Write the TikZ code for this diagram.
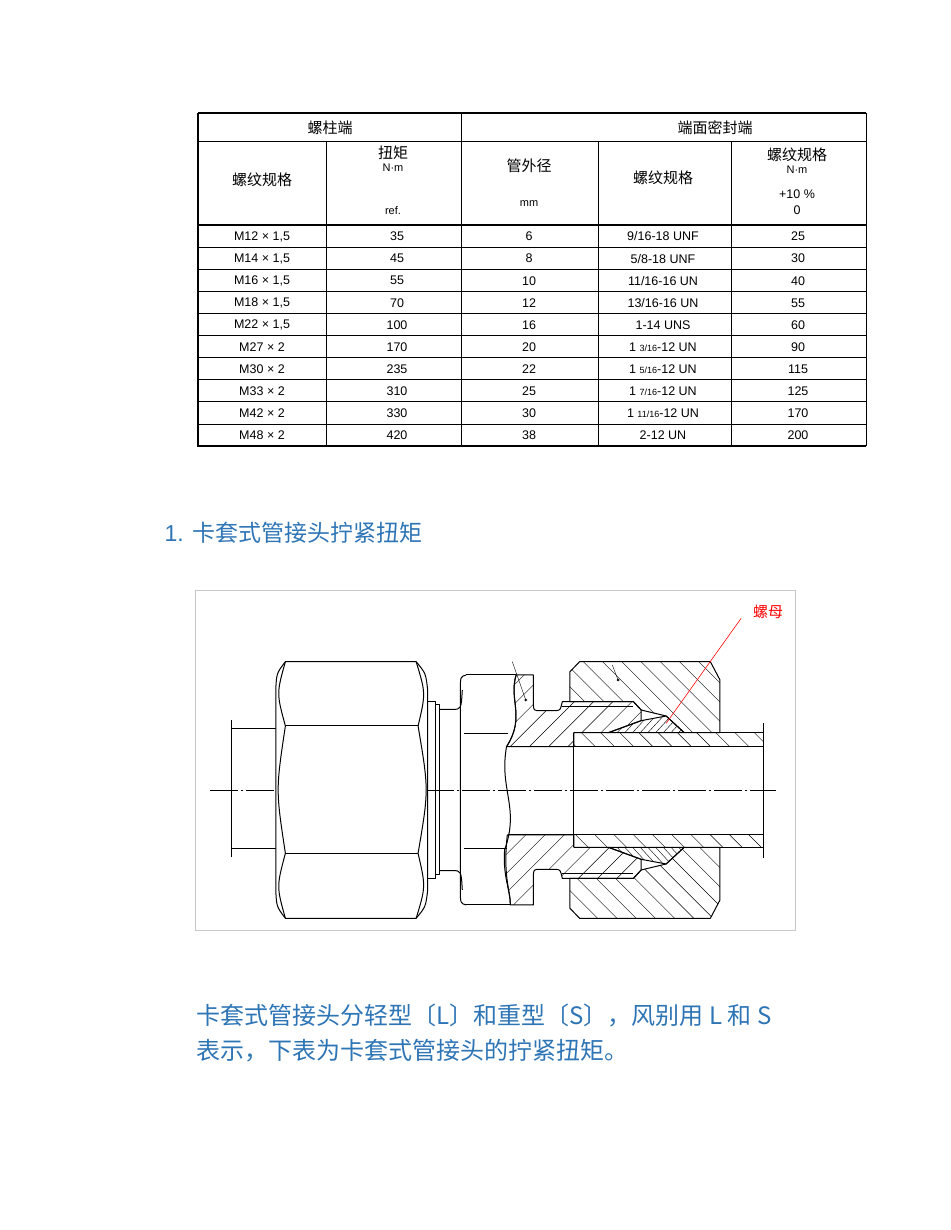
\documentclass[tikz,border=0pt]{standalone}
\usepackage{fontspec}
\setmainfont{Liberation Sans}
\newfontfamily\cjk{Noto Sans CJK SC}
\definecolor{ttl}{HTML}{2E75B6}
\definecolor{frm}{HTML}{C8C8C8}
\newcommand{\hatchA}[2]{\begin{scope}\clip #1;\foreach \i in {-1600,-1550,...,1600}{\draw[thin] (\i+#2,-200) -- ++(1300,1500);}\end{scope}}
\newcommand{\hatchB}[2]{\begin{scope}\clip #1;\foreach \i in {0,50,...,3200}{\draw[thin] (\i+#2,-200) -- ++(-1300,1500);}\end{scope}}
\begin{document}
\begin{tikzpicture}[x=1pt,y=-1pt,
  hd/.style={font=\cjk\fontsize{15}{15}\selectfont},
  sm/.style={font=\fontsize{11}{11}\selectfont},
  dt/.style={font=\fontsize{12.5}{12.5}\selectfont},
  tl/.style={line width=0.8pt},
  ln/.style={line width=1pt,line join=round}]
\useasboundingbox (0,0) rectangle (950,1230);
\fill[white] (0,0) rectangle (950,1230);
% ---------- table ----------
\draw[line width=2pt] (198,113) -- (866,113);
\draw[line width=2pt] (198,113) -- (198,447);
\draw[tl] (198,141) -- (866,141);
\draw[line width=1.4pt] (198,225) -- (866,225);
\foreach \k in {1,...,10}{\draw[tl] (198,{225+22.1*\k}) -- (866,{225+22.1*\k});}
\draw[line width=1.4pt] (198,446) -- (866,446);
\draw[tl] (461,113) -- (461,446);
\draw[tl] (866,113) -- (866,446);
\draw[tl] (326,141) -- (326,446);
\draw[tl] (598,141) -- (598,446);
\draw[tl] (731,141) -- (731,446);
\node[hd] (h1) at (330,128) {螺柱端};
\node[hd] (h2) at (715,128) {端面密封端};
\node[hd] (h3) at (262,180) {螺纹规格};
\node[hd] (h4) at (393,153) {扭矩};
\node[sm] (h5) at (393,168) {N·m};
\node[sm] (h6) at (393,211) {ref.};
\node[hd] (h7) at (529,166) {管外径};
\node[sm] (h8) at (529,204) {mm};
\node[hd] (h9) at (663,178) {螺纹规格};
\node[hd] (h10) at (797,155) {螺纹规格};
\node[sm] (h11) at (797,170) {N·m};
\node[dt] (h12) at (797,194) {+10 \%};
\node[dt] (h13) at (797,210) {0};
\def\fr#1{{\fontsize{9}{9}\selectfont #1}}
\foreach \a/\b/\c/\d/\e [count=\k from 0] in {
 {M12 × 1,5}/35/6/9\slash 16-18 UNF/25,
 {M14 × 1,5}/45/8/5\slash 8-18 UNF/30,
 {M16 × 1,5}/55/10/11\slash 16-16 UN/40,
 {M18 × 1,5}/70/12/13\slash 16-16 UN/55,
 {M22 × 1,5}/100/16/1-14 UNS/60,
 M27 × 2/170/20/1 \fr{3\slash 16}-12 UN/90,
 M30 × 2/235/22/1 \fr{5\slash 16}-12 UN/115,
 M33 × 2/310/25/1 \fr{7\slash 16}-12 UN/125,
 M42 × 2/330/30/1 \fr{11\slash 16}-12 UN/170,
 M48 × 2/420/38/2-12 UN/200}{
 \node[dt] (ra\k) at (262,{236.5+22.1*\k}) {\a};
 \node[dt] (rb\k) at (397,{236.5+22.1*\k}) {\b};
 \node[dt] (rc\k) at (529,{236.5+22.1*\k}) {\c};
 \node[dt] (rd\k) at (663,{236.5+22.1*\k}) {\d};
 \node[dt] (re\k) at (798,{236.5+22.1*\k}) {\e};
}
% ---------- title ----------
\node[anchor=west,text=ttl,font=\fontsize{23}{23}\selectfont] (title) at (161,533) {1. {\cjk 卡套式管接头拧紧扭矩}};
% ---------- paragraph ----------
\node[anchor=west,text=ttl,font=\cjk\fontsize{24}{24}\selectfont] (p1) at (193,1015) {卡套式管接头分轻型〔L〕和重型〔S〕，风别用 L 和 S};
\node[anchor=west,text=ttl,font=\cjk\fontsize{24}{24}\selectfont] (p2) at (193,1051) {表示，下表为卡套式管接头的拧紧扭矩。};
% ---------- drawing ----------
\begin{scope}[shift={(195,590)},x=0.3846pt,y=-0.3333pt]
\draw[frm,line width=0.8pt] (0,0) rectangle (1560,1020);
\draw[line width=0.5pt,dash pattern=on 28pt off 3pt on 2pt off 3pt] (40,600) -- (1510,600);
\draw[ln] (95,415) -- (210,415) (95,775) -- (210,775);
\draw[line width=0.5pt] (95,390) -- (95,800);
\draw[ln,fill=white] (235,215) -- (575,215) .. controls (600,250) .. (605,300) -- (605,900) .. controls (600,950) .. (575,985) -- (235,985) .. controls (212,950) .. (210,900) -- (210,300) .. controls (212,250) .. (235,215) -- cycle;
\draw[ln] (235,408) -- (580,408) (235,790) -- (580,790);
\draw[ln] (235,215) .. controls (212,310) .. (235,408) .. controls (210,600) .. (235,790) .. controls (212,890) .. (235,985);
\draw[ln] (575,215) .. controls (600,310) .. (580,408) .. controls (608,600) .. (580,790) .. controls (600,890) .. (575,985);
\draw[ln] (605,335) rectangle (625,865);
\draw[ln] (625,345) rectangle (635,855);
\draw[ln] (635,358) -- (670,358) .. controls (692,358) .. (695,300);
\draw[ln] (635,842) -- (670,842) .. controls (692,842) .. (695,900);
\draw[ln] (705,255) .. controls (690,260) .. (690,300) -- (690,900) .. controls (690,940) .. (705,945);
\draw[ln] (700,430) -- (815,430) (700,775) -- (812,775);
\draw[ln] (815,470) -- (985,470) (815,735) -- (985,735);
\draw[ln] (835,255) .. controls (815,330) and (860,380) .. (810,470) .. controls (790,600) and (845,650) .. (805,780) .. controls (800,860) and (820,900) .. (820,945);
\def\bodyU{(835,255) -- (880,255) -- (880,340) .. controls (880,362) .. (900,362) -- (940,362) .. controls (950,360) .. (955,335) -- (1140,335) -- (1160,360) -- (1160,392) -- (1075,428) -- (985,428) -- (985,470) -- (810,470) .. controls (860,380) and (815,330) .. (835,255)}
\draw[ln] (705,255) -- (835,255);
\hatchB{\bodyU}{0}
\draw[ln] \bodyU -- cycle;
\draw[ln] (955,350) -- (1140,350);
\def\bodyL{(820,945) -- (880,945) -- (880,860) .. controls (880,838) .. (900,838) -- (940,838) .. controls (950,840) .. (955,865) -- (1140,865) -- (1160,840) -- (1160,808) -- (1075,772) -- (985,772) -- (985,735) -- (812,735) .. controls (800,860) and (820,900) .. (820,945)}
\draw[ln] (705,945) -- (820,945);
\hatchB{\bodyL}{20}
\draw[ln] \bodyL -- cycle;
\draw[ln] (955,850) -- (1140,850);
\def\nutU{(975,245) -- (1000,215) -- (1340,215) -- (1365,270) -- (1365,428) -- (1272,428) -- (1225,378) -- (1160,360) -- (1140,335) -- (975,335) -- cycle}
\hatchA{\nutU}{0}
\draw[ln] \nutU;
\def\nutL{(975,955) -- (1000,985) -- (1340,985) -- (1365,930) -- (1365,772) -- (1272,772) -- (1225,822) -- (1160,840) -- (1140,865) -- (975,865) -- cycle}
\hatchA{\nutL}{20}
\draw[ln] \nutL;
\def\ferU{(1075,428) -- (1160,392) -- (1225,378) -- (1272,428) -- cycle}
\begin{scope}\clip \ferU;\foreach \i in {900,920,...,1400}{\draw[thin] (\i,300) -- ++(-120,150);}\end{scope}
\draw[ln] \ferU;
\def\ferL{(1075,772) -- (1160,808) -- (1225,822) -- (1272,772) -- cycle}
\begin{scope}\clip \ferL;\foreach \i in {900,920,...,1400}{\draw[thin] (\i,900) -- ++(-120,-150);}\end{scope}
\draw[ln] \ferL;
\def\pipU{(1272,428) -- (1478,428) -- (1478,470) -- (985,470) -- (985,428) -- cycle}
\hatchA{\pipU}{10}
\def\pipL{(1272,772) -- (1478,772) -- (1478,735) -- (985,735) -- (985,772) -- cycle}
\hatchA{\pipL}{30}
\draw[ln] (985,428) -- (1478,428) (985,470) -- (1478,470) (985,735) -- (1478,735) (985,772) -- (1478,772);
\draw[ln] (985,428) -- (985,772);
\draw[line width=0.5pt] (1478,400) -- (1478,805);
\coordinate (la) at (825,215);
\coordinate (lb) at (860,330);
\draw[thin] (la) -- (lb);
\fill (lb) circle (4);
\coordinate (lc) at (1085,225);
\coordinate (ld) at (1100,270);
\draw[thin] (lc) -- (ld);
\fill (ld) circle (4);
\node[text=red,font=\cjk\fontsize{15}{15}\selectfont] (lm) at (1490,65) {螺母};
\coordinate (re) at (1225,400);
\draw[red,line width=0.6pt] (1420,85) -- (re);
\end{scope}
\end{tikzpicture}
\end{document}
